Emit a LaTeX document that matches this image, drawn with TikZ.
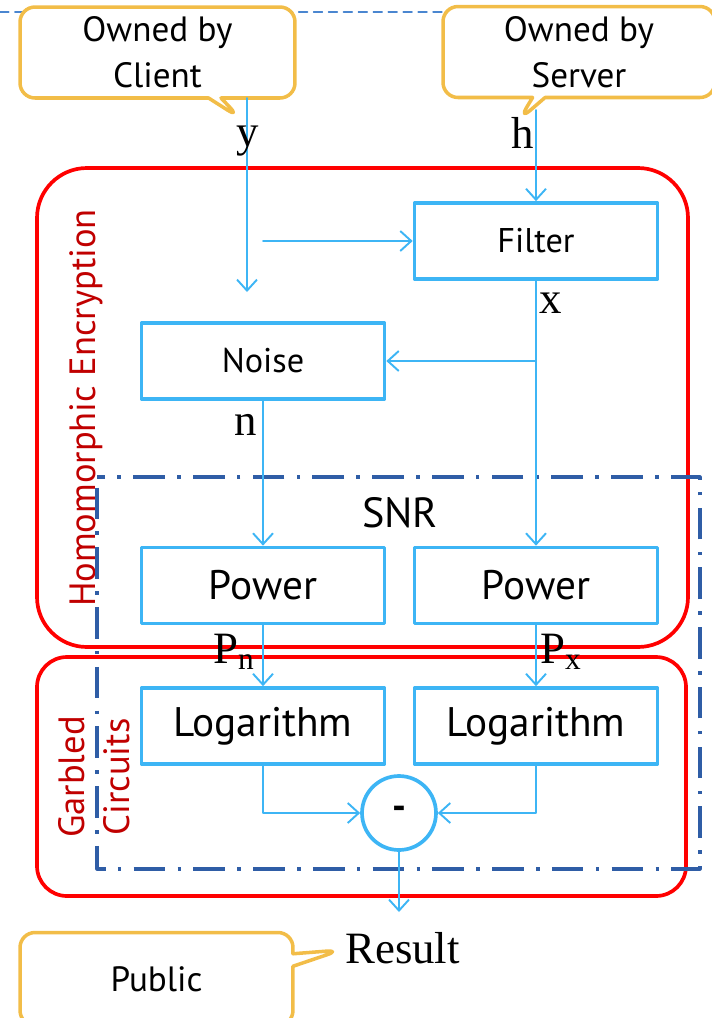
\documentclass[tikz,border=0pt]{standalone}
\usepackage{fontspec}
\setmainfont{Liberation Serif}
\newfontfamily\gillfont{PT Sans}
\usepackage{tikz}
\usetikzlibrary{arrows.meta,shapes.callouts}

\definecolor{boxblue}{HTML}{3DB5F5}
\definecolor{ownorange}{HTML}{F2BD48}
\definecolor{labelred}{HTML}{C00000}
\definecolor{snrblue}{HTML}{2F5DA6}
\definecolor{edgeblue}{HTML}{4A86D0}

\tikzset{
  block/.style={draw=boxblue,line width=2.1pt,minimum width=4.86cm,
    minimum height=1.52cm,font=\gillfont\fontsize{19.5}{22}\selectfont},
  bigblock/.style={block,font=\gillfont\fontsize{23.5}{26}\selectfont},
  flow/.style={draw=boxblue,line width=1.1pt,
    -{Straight Barb[length=2.2mm,width=4mm,line width=1.1pt]}},
  owner/.style={rectangle callout,draw=ownorange,fill=white,line width=2pt,
    rounded corners=.3cm,minimum width=5.5cm,minimum height=1.82cm,
    align=center,font=\gillfont\fontsize{20}{26}\selectfont},
  sig/.style={font=\fontsize{25.5}{28}\selectfont,anchor=base,inner sep=0pt},
  region/.style={draw=red,line width=2.1pt},
  regionlabel/.style={rotate=90,text=labelred,align=center,
    font=\gillfont\fontsize{20.8}{25.5}\selectfont}
}

\begin{document}
\begin{tikzpicture}[x=.02cm,y=-.02cm,line cap=round,line join=round]
    \useasboundingbox (0,0) rectangle (712,1018);
    % slide edge
    \draw[edgeblue,line width=.9pt,dash pattern=on 5pt off 3.5pt] (0,12) -- (443,12);
    % owners
    \node[owner,callout absolute pointer={(240,118)}] (client) at (157.5,52.5) {Owned by\\Client};
    \node[owner,minimum width=5.44cm,callout absolute pointer={(519,120)}] (server) at (579,52) {Owned by\\Server};
    \node[owner,minimum width=5.46cm,minimum height=1.86cm,callout absolute pointer={(341,950)}] (public) at (156.5,979) {Public};
    % regions
    \draw[region,rounded corners=1cm] (37,168) rectangle (688,647);
    \draw[region,rounded corners=.6cm] (37,657) rectangle (686,896);
    \node[regionlabel] (helabel) at (86,408) {Homomorphic Encryption};
    \node[regionlabel] (gclabel) at (94,777) {Garbled\\Circuits};
    \draw[snrblue,line width=1.8pt,line cap=butt,dash pattern=on 18pt off 7pt on 2pt off 7pt,dash phase=-6pt] (97,477) rectangle (700,869);
    \node[font=\gillfont\fontsize{24}{26}\selectfont] (snrlabel) at (400,513) {SNR};
    % blocks
    \node[block] (filter) at (536,241) {Filter};
    \node[block] (noise) at (263,361) {Noise};
    \node[bigblock] (powern) at (263,585.5) {Power};
    \node[bigblock] (powerx) at (536,585.5) {Power};
    \node[bigblock] (logn) at (263,726) {Logarithm};
    \node[bigblock] (logx) at (536,726) {Logarithm};
    \node[circle,draw=boxblue,line width=2.1pt,minimum size=1.48cm,
      font=\gillfont\bfseries\fontsize{22}{26}\selectfont] (minus) at (399,813) {-};
    % free ends
    \coordinate (yin) at (247,98);
    \coordinate (ytip) at (247,292);
    \coordinate (ybranch) at (263,241);
    \coordinate (hin) at (536,110);
    \coordinate (resulttip) at (399,912);
    % flows
    \draw[flow] (yin) -- (ytip);
    \draw[flow] (ybranch) -- (filter.west);
    \draw[flow] (hin) -- (filter.north);
    \draw[flow] (filter.south) -- (powerx.north);
    \draw[flow] (filter.south |- noise.east) -- (noise.east);
    \draw[flow] (noise.south) -- (powern.north);
    \draw[flow] (powern.south) -- (logn.north);
    \draw[flow] (powerx.south) -- (logx.north);
    \draw[flow] (logn.south) |- (minus.west);
    \draw[flow] (logx.south) |- (minus.east);
    \draw[flow] (minus.south) -- (resulttip);
    % signals
    \node[sig] (ylabel) at (248,146) {y};
    \node[sig] (hlabel) at (523,148) {h};
    \node[sig] (xlabel) at (551,313) {x};
    \node[sig] (nlabel) at (246,435) {n};
    \node[sig] (pnlabel) at (234,663) {P\textsubscript{n}};
    \node[sig] (pxlabel) at (561,663) {P\textsubscript{x}};
    \node[sig,anchor=base west] (result) at (345,963) {Result};
  \end{tikzpicture}
\end{document}
